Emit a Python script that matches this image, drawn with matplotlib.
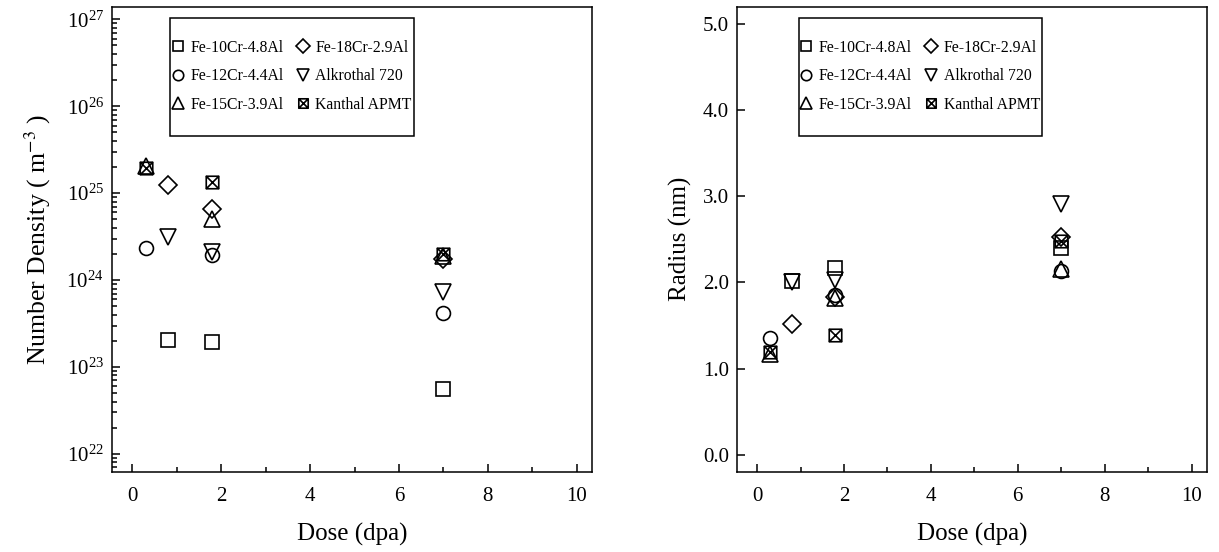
import numpy as np
import matplotlib
matplotlib.use("Agg")
import matplotlib.pyplot as plt
from matplotlib.path import Path
from matplotlib.patches import Rectangle
from matplotlib.ticker import LogLocator, FixedLocator, MultipleLocator, NullFormatter

plt.rcParams['font.family'] = ['Liberation Serif', 'DejaVu Serif']
plt.rcParams['mathtext.fontset'] = 'stix'

# ---- data ----
alloys = ["Fe-10Cr-4.8Al", "Fe-12Cr-4.4Al", "Fe-15Cr-3.9Al",
          "Fe-18Cr-2.9Al", "Alkrothal 720", "Kanthal APMT"]

dose_10Cr = [0.8, 1.8, 7.0]
nd_10Cr = [2.05e23, 1.95e23, 5.6e22]
r_10Cr = [2.02, 2.17, 2.40]

dose_12Cr = [0.3, 1.8, 7.0]
nd_12Cr = [2.35e24, 1.95e24, 4.2e23]
r_12Cr = [1.36, 1.85, 2.13]

dose_15Cr = [0.3, 1.8, 7.0]
nd_15Cr = [2.05e25, 5.0e24, 1.9e24]
r_15Cr = [1.17, 1.82, 2.15]

dose_18Cr = [0.8, 1.8, 7.0]
nd_18Cr = [1.25e25, 6.6e24, 1.75e24]
r_18Cr = [1.52, 1.83, 2.53]

dose_alk = [0.8, 1.8, 7.0]
nd_alk = [3.1e24, 2.1e24, 7.3e23]
r_alk = [2.01, 2.03, 2.91]

dose_apmt = [0.3, 1.8, 7.0]
nd_apmt = [1.95e25, 1.35e25, 2.0e24]
r_apmt = [1.19, 1.39, 2.48]

# custom square-with-X marker
xbox = Path([(-1, -1), (1, -1), (1, 1), (-1, 1), (-1, -1),
             (-1, -1), (1, 1), (-1, 1), (1, -1)],
            [Path.MOVETO, Path.LINETO, Path.LINETO, Path.LINETO, Path.CLOSEPOLY,
             Path.MOVETO, Path.LINETO, Path.MOVETO, Path.LINETO])

series = [
    (alloys[0], dose_10Cr, nd_10Cr, r_10Cr, 's', 10),
    (alloys[1], dose_12Cr, nd_12Cr, r_12Cr, 'o', 10),
    (alloys[2], dose_15Cr, nd_15Cr, r_15Cr, '^', 12),
    (alloys[3], dose_18Cr, nd_18Cr, r_18Cr, 'D', 9.5),
    (alloys[4], dose_alk, nd_alk, r_alk, 'v', 12),
    (alloys[5], dose_apmt, nd_apmt, r_apmt, xbox, 9),
]

fig = plt.figure(figsize=(12.19, 5.52), dpi=100)
ax1 = fig.add_axes([0.092, 0.145, 0.394, 0.843])
ax2 = fig.add_axes([0.605, 0.145, 0.385, 0.843])

for name, d, nd, r, m, ms in series:
    ax1.plot(d, nd, linestyle='none', marker=m, markersize=ms, mfc='none',
             mec='black', mew=1.2, label=name)
    ax2.plot(d, r, linestyle='none', marker=m, markersize=ms, mfc='none',
             mec='black', mew=1.2, label=name)

legend_geo = {ax1: ((0.121, 0.723, 0.507, 0.253), (0.374, 0.850)),
              ax2: ((0.130, 0.723, 0.519, 0.253), (0.389, 0.850))}

for ax in (ax1, ax2):
    ax.set_xlim(-0.45, 10.35)
    ax.xaxis.set_major_locator(MultipleLocator(2))
    ax.xaxis.set_minor_locator(MultipleLocator(1))
    ax.tick_params(which='both', direction='in', top=False, right=False,
                   labelsize=15, width=1.1)
    ax.tick_params(which='major', length=6)
    ax.tick_params(which='minor', length=3.5)
    ax.tick_params(axis='x', which='major', pad=11)
    ax.tick_params(axis='y', which='major', pad=6)
    for s in ax.spines.values():
        s.set_linewidth(1.1)
    ax.set_xlabel("Dose (dpa)", fontsize=18, labelpad=12)
    (rx, ry, rw, rh), (cx, cy) = legend_geo[ax]
    ax.add_patch(Rectangle((rx, ry), rw, rh, transform=ax.transAxes,
                           fill=False, edgecolor='black', linewidth=1.1, zorder=5))
    ax.legend(ncol=2, loc='center', bbox_to_anchor=(cx, cy),
              borderaxespad=0, fontsize=11.3, frameon=False,
              markerscale=0.75, handlelength=0.8,
              handletextpad=0.4, columnspacing=0.8, borderpad=0.1,
              labelspacing=0.8)

ax1.set_yscale('log')
ax1.set_ylim(6.2e21, 1.4e27)
ax1.yaxis.set_major_locator(LogLocator(base=10, numticks=10))
ax1.yaxis.set_minor_locator(LogLocator(base=10, subs=np.arange(2, 10), numticks=20))
ax1.yaxis.set_minor_formatter(NullFormatter())
ax1.set_ylabel("Number Density ( m$^{-3}$ )", fontsize=18.5, labelpad=10)

ax2.set_ylim(-0.2, 5.2)
ax2.yaxis.set_major_locator(FixedLocator([0, 1, 2, 3, 4, 5]))
ax2.set_yticklabels(["0.0", "1.0", "2.0", "3.0", "4.0", "5.0"])
ax2.set_ylabel("Radius (nm)", fontsize=18, labelpad=8)

fig.savefig("out.png", dpi=100)
